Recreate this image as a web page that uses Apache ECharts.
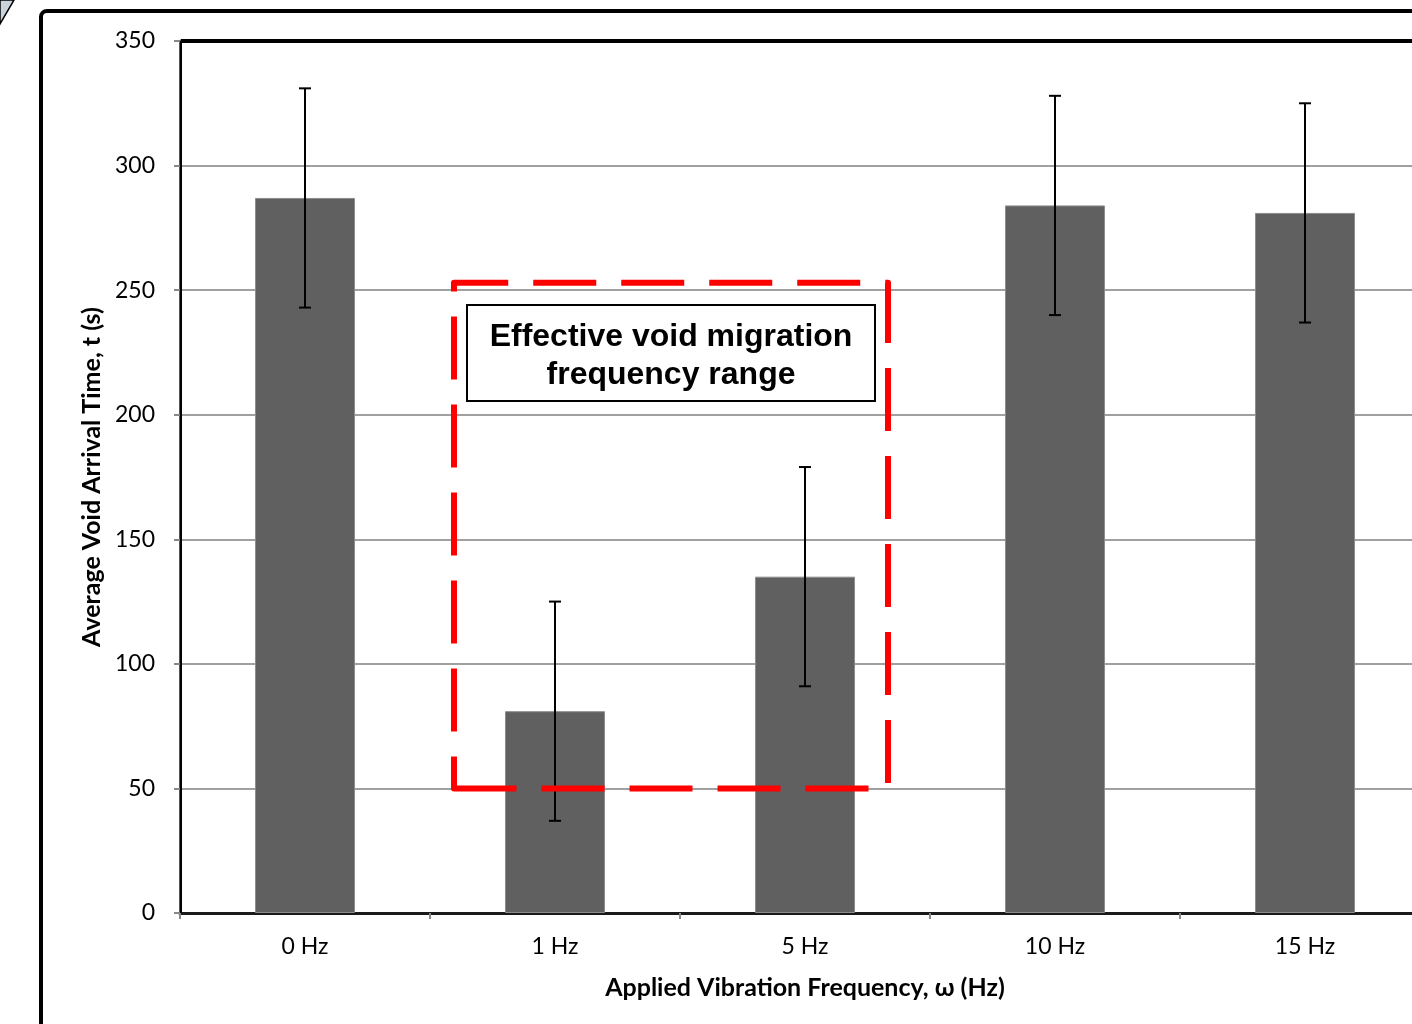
<!DOCTYPE html>
<html>
<head>
<meta charset="utf-8">
<script src="https://cdn.jsdelivr.net/npm/echarts@6/dist/echarts.min.js"></script>
<style>
html,body{margin:0;padding:0;background:#fff;overflow:hidden;}
#chart{width:1440px;height:1024px;}
</style>
</head>
<body>
<div id="chart"></div>
<script>
var categories = ['0 Hz', '1 Hz', '5 Hz', '10 Hz', '15 Hz'];
var meanTime = [287, 81, 135, 284, 281];
var errLow = [243, 37, 91, 240, 237];
var errHigh = [331, 125, 179, 328, 325];
var yTicks = [0, 50, 100, 150, 200, 250, 300, 350];
var boxLabel = ['Effective void migration', 'frequency range'];

var chart = echarts.init(document.getElementById('chart'));
var FONT = 'Lato';

var option = {
  backgroundColor: '#fff',
  animation: false,
  grid: {
    left: 180, top: 41, width: 1250, height: 872,
    show: false
  },
  xAxis: {
    type: 'category',
    data: categories,
    name: 'Applied Vibration Frequency, ω (Hz)',
    nameLocation: 'middle',
    nameGap: 62,
    nameTextStyle: {fontFamily: FONT, fontSize: 25, fontWeight: 'bold', color: '#000'},
    axisLine: {show: true, lineStyle: {color: '#1a1a1a', width: 3}},
    axisTick: {show: true, alignWithLabel: false, length: 6, lineStyle: {color: '#888', width: 2}},
    axisLabel: {fontFamily: FONT, fontSize: 23, color: '#000', margin: 22},
    splitLine: {show: false}
  },
  yAxis: {
    type: 'value',
    min: 0, max: 350, interval: 50,
    name: 'Average Void Arrival Time, t (s)',
    nameLocation: 'middle',
    nameGap: 75,
    nameTextStyle: {fontFamily: FONT, fontSize: 25, fontWeight: 'bold', color: '#000'},
    axisLine: {show: true, lineStyle: {color: '#555', width: 3}},
    axisTick: {show: true, length: 6, lineStyle: {color: '#888', width: 2}},
    axisLabel: {fontFamily: FONT, fontSize: 23, color: '#000', margin: 25,
      formatter: function (v) { return yTicks.indexOf(v) >= 0 ? String(v) : ''; }},
    splitLine: {show: true, lineStyle: {color: '#a0a0a0', width: 2}}
  },
  series: [
    {
      type: 'bar',
      data: meanTime,
      barWidth: 100,
      itemStyle: {color: '#606060', borderColor: '#8c8c8c', borderWidth: 1},
      z: 2
    },
    {
      type: 'custom',
      z: 3,
      data: categories.map(function (c, i) { return [i, errLow[i], errHigh[i]]; }),
      encode: {x: 0, y: [1, 2]},
      renderItem: function (params, api) {
        var i = api.value(0);
        var lo = api.coord([i, api.value(1)]);
        var hi = api.coord([i, api.value(2)]);
        var cap = 6;
        var st = {stroke: '#000', lineWidth: 2};
        return {
          type: 'group',
          children: [
            {type: 'line', shape: {x1: lo[0], y1: lo[1], x2: hi[0], y2: hi[1]}, style: st},
            {type: 'line', shape: {x1: hi[0] - cap, y1: hi[1], x2: hi[0] + cap, y2: hi[1]}, style: st},
            {type: 'line', shape: {x1: lo[0] - cap, y1: lo[1], x2: lo[0] + cap, y2: lo[1]}, style: st}
          ]
        };
      }
    }
  ]
};
chart.setOption(option);

// Annotation (dashed range box + label), positioned from axis coordinates
var c0 = chart.convertToPixel({xAxisIndex: 0}, 0);
var c1 = chart.convertToPixel({xAxisIndex: 0}, 1);
var c2 = chart.convertToPixel({xAxisIndex: 0}, 2);
var band = c1 - c0;
var gx0 = c0 - band / 2;
var gTop = chart.convertToPixel({yAxisIndex: 0}, 350);
var gBot = chart.convertToPixel({yAxisIndex: 0}, 0);
var bx1 = c1 - 0.404 * band;
var bx2 = c2 + 0.332 * band;
var by1 = chart.convertToPixel({yAxisIndex: 0}, 253);
var by2 = chart.convertToPixel({yAxisIndex: 0}, 50);
var tx1 = c1 - 0.352 * band, tx2 = c2 + 0.28 * band;
var ty1 = chart.convertToPixel({yAxisIndex: 0}, 244);
var ty2 = chart.convertToPixel({yAxisIndex: 0}, 205.5);
var tcx = (tx1 + tx2) / 2, tcy = (ty1 + ty2) / 2;

chart.setOption({
  graphic: [
    {
      type: 'rect', z: 0, silent: true,
      shape: {x: 41, y: 11, width: 1500, height: 1100, r: 6},
      style: {fill: 'none', stroke: '#000', lineWidth: 4}
    },
    {
      type: 'polyline', z: 50, silent: true,
      shape: {points: [[gx0 + 1, gTop], [gx0 + 1400, gTop]]},
      style: {stroke: '#000', lineWidth: 4}
    },
    {
      type: 'polyline', z: 50, silent: true,
      shape: {points: [[gx0 + 1, gTop], [gx0 + 1, gBot]]},
      style: {stroke: '#000', lineWidth: 2}
    },
    {
      type: 'polygon', z: 10, silent: true,
      shape: {points: [[0, 0], [14, 0], [0, 24]]},
      style: {fill: '#c9d3db', stroke: '#000', lineWidth: 1.5}
    },
    {
      type: 'polygon', z: 100, silent: true,
      shape: {points: [[bx1, by2], [bx1, by1], [bx2, by1], [bx2, by2]]},
      style: {fill: 'none', stroke: '#ff0000', lineWidth: 6, lineDash: [63, 25], lineDashOffset: 31, lineJoin: 'round'}
    },
    {
      type: 'rect', z: 101, silent: true,
      shape: {x: tx1, y: ty1, width: tx2 - tx1, height: ty2 - ty1},
      style: {fill: '#fff', stroke: '#000', lineWidth: 2}
    },
    {
      type: 'text', z: 102, silent: true,
      x: tcx, y: tcy - 16,
      style: {text: boxLabel[0], fontFamily: 'Liberation Sans', fontWeight: 'bold', fontSize: 32, fill: '#000', align: 'center', verticalAlign: 'middle'}
    },
    {
      type: 'text', z: 102, silent: true,
      x: tcx, y: tcy + 22,
      style: {text: boxLabel[1], fontFamily: 'Liberation Sans', fontWeight: 'bold', fontSize: 32, fill: '#000', align: 'center', verticalAlign: 'middle'}
    }
  ]
});
</script>
</body>
</html>
